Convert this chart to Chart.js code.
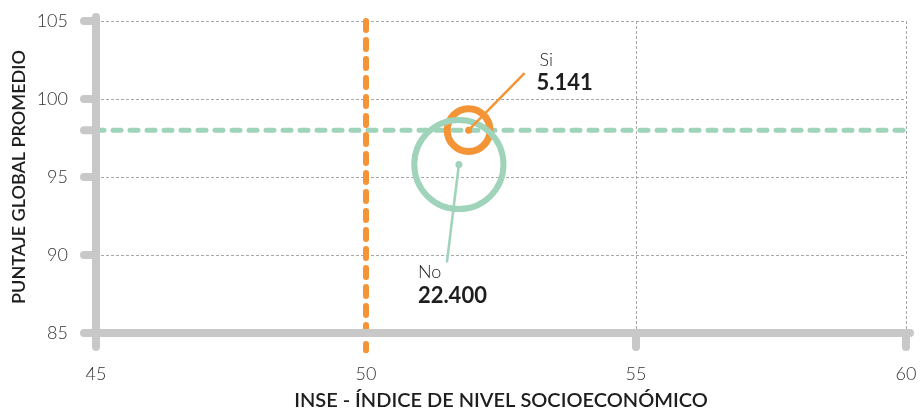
<!DOCTYPE html>
<html>
<head>
<meta charset="utf-8">
<script src="https://cdn.jsdelivr.net/npm/chart.js@4/dist/chart.umd.min.js"></script>
<style>
    html, body { margin: 0; padding: 0; background: #fff; }
    #wrap { width: 922px; height: 413px; }
</style>
</head>
<body>
<div id="wrap"><canvas id="inse-chart"></canvas></div>
<script>
// Datos
const groupLabels = ['Si', 'No'];
const groupCounts = [5141, 22400];
const groupInse = [51.9, 51.72];
const groupPuntaje = [98.0, 95.8];

const refPuntaje = 98;       // línea horizontal promedio
const refInse = 50;          // línea vertical
const xTicks = [45, 50, 55, 60];
const yTicks = [85, 90, 95, 100, 105];

const ORANGE = '#f39436';
const GREEN = '#9fd3ba';
const AXIS_GRAY = '#c8c8c8';
const TEXT = '#1e1e1e';
const FONT = 'Lato, "Open Sans", sans-serif';

// radio de la burbuja proporcional a la raíz del número de estudiantes
const radiusOf = n => Math.sqrt(n) * 0.298;

const fmt = n => n.toLocaleString('es-CL').replace(/,/g, '.');

// Ejes gruesos con "muescas" redondeadas (encima de las líneas guía)
const axesPlugin = {
    id: 'axesPlugin',
    afterDatasetsDraw(chart) {
        const { ctx, chartArea: a, scales: { x, y } } = chart;
        ctx.save();
        ctx.strokeStyle = AXIS_GRAY;
        ctx.lineWidth = 8;
        ctx.lineCap = 'round';

        ctx.beginPath();
        ctx.moveTo(a.left, a.top - 4);
        ctx.lineTo(a.left, a.bottom + 14);
        ctx.moveTo(a.left - 12, a.bottom);
        ctx.lineTo(a.right + 4, a.bottom);
        yTicks.concat([refPuntaje]).forEach(v => {
            const py = y.getPixelForValue(v);
            ctx.moveTo(a.left - 12, py);
            ctx.lineTo(a.left, py);
        });
        xTicks.filter(v => v !== refInse).forEach(v => {
            const px = x.getPixelForValue(v);
            ctx.moveTo(px, a.bottom);
            ctx.lineTo(px, a.bottom + 14);
        });
        ctx.stroke();
        ctx.restore();
    }
};

// Líneas guía y etiquetas de cada burbuja
const calloutPlugin = {
    id: 'calloutPlugin',
    afterDatasetsDraw(chart) {
        const { ctx } = chart;
        const meta = chart.getDatasetMeta(0);
        const callouts = [
            { color: ORANGE, end: [56, -57], name: [71, -70], num: [68, -47] },
            { color: GREEN, end: [-12, 98], name: [-41, 108], num: [-41, 131] }
        ];
        ctx.save();
        meta.data.forEach((pt, i) => {
            const c = callouts[i];
            ctx.strokeStyle = c.color;
            ctx.lineWidth = 2.5;
            ctx.beginPath();
            ctx.moveTo(pt.x, pt.y);
            ctx.lineTo(pt.x + c.end[0], pt.y + c.end[1]);
            ctx.stroke();

            ctx.fillStyle = TEXT;
            ctx.textAlign = 'left';
            ctx.textBaseline = 'middle';
            ctx.font = '300 18px ' + FONT;
            ctx.fillText(groupLabels[i], pt.x + c.name[0], pt.y + c.name[1]);
            ctx.font = 'bold 22px ' + FONT;
            ctx.fillText(fmt(groupCounts[i]), pt.x + c.num[0], pt.y + c.num[1]);
        });
        ctx.restore();
    }
};

const points = groupLabels.map((l, i) => ({ x: groupInse[i], y: groupPuntaje[i], r: radiusOf(groupCounts[i]) }));
const dots = groupLabels.map((l, i) => ({ x: groupInse[i], y: groupPuntaje[i], r: 3.5 }));

new Chart(document.getElementById('inse-chart'), {
    type: 'bubble',
    data: {
        datasets: [
            {
                label: 'Grupos',
                data: points,
                backgroundColor: 'rgba(0,0,0,0)',
                borderColor: [ORANGE, GREEN],
                borderWidth: [7, 6],
                order: 2
            },
            {
                label: 'Centro',
                data: dots,
                backgroundColor: [ORANGE, GREEN],
                borderWidth: 0,
                order: 1
            },
            {
                type: 'line',
                label: 'Promedio',
                data: [{ x: xTicks[0], y: refPuntaje }, { x: xTicks[xTicks.length - 1], y: refPuntaje }],
                borderColor: GREEN,
                borderWidth: 5,
                borderDash: [8, 9],
                borderCapStyle: 'round',
                pointRadius: 0,
                order: 4
            },
            {
                type: 'line',
                label: 'Corte',
                data: [{ x: refInse, y: yTicks[yTicks.length - 1] }, { x: refInse, y: 83.9 }],
                borderColor: ORANGE,
                borderWidth: 6,
                borderDash: [9, 10],
                borderCapStyle: 'round',
                pointRadius: 0,
                clip: false,
                order: 3
            }
        ]
    },
    options: {
        responsive: true,
        maintainAspectRatio: false,
        animation: false,
        layout: { autoPadding: false, padding: { top: 21, right: 16, left: 0, bottom: 0 } },
        plugins: {
            legend: { display: false },
            tooltip: { enabled: false }
        },
        scales: {
            x: {
                type: 'linear',
                min: 45,
                max: 60,
                afterBuildTicks: s => { s.ticks = xTicks.map(v => ({ value: v })); },
                afterFit: s => { s.height = 80; s.paddingLeft = 0; s.paddingRight = 0; },
                border: { display: false, dash: [3, 2] },
                grid: {
                    drawTicks: false,
                    lineWidth: 1,
                    color: c => (c.tick && c.tick.value > refInse) ? '#a8a8a8' : 'rgba(0,0,0,0)'
                },
                ticks: {
                    padding: 30,
                    color: '#333',
                    font: { family: FONT, size: 18, weight: '300' }
                },
                title: {
                    display: true,
                    text: 'INSE - ÍNDICE DE NIVEL SOCIOECONÓMICO',
                    color: TEXT,
                    padding: { top: 8, bottom: 0 },
                    font: { family: FONT, size: 20, weight: '600' }
                }
            },
            y: {
                type: 'linear',
                min: 85,
                max: 105,
                afterBuildTicks: s => { s.ticks = yTicks.map(v => ({ value: v })); },
                afterFit: s => { s.width = 96; s.paddingTop = 0; s.paddingBottom = 0; },
                border: { display: false, dash: [3, 2] },
                grid: {
                    drawTicks: false,
                    lineWidth: 1,
                    color: c => (c.tick && c.tick.value > yTicks[0]) ? '#a8a8a8' : 'rgba(0,0,0,0)'
                },
                ticks: {
                    padding: 28,
                    color: '#333',
                    font: { family: FONT, size: 18, weight: '300' }
                },
                title: {
                    display: true,
                    text: 'PUNTAJE GLOBAL PROMEDIO',
                    color: TEXT,
                    padding: { top: 8, bottom: 0 },
                    font: { family: FONT, size: 18, weight: '600' }
                }
            }
        }
    },
    plugins: [axesPlugin, calloutPlugin]
});
</script>
</body>
</html>
